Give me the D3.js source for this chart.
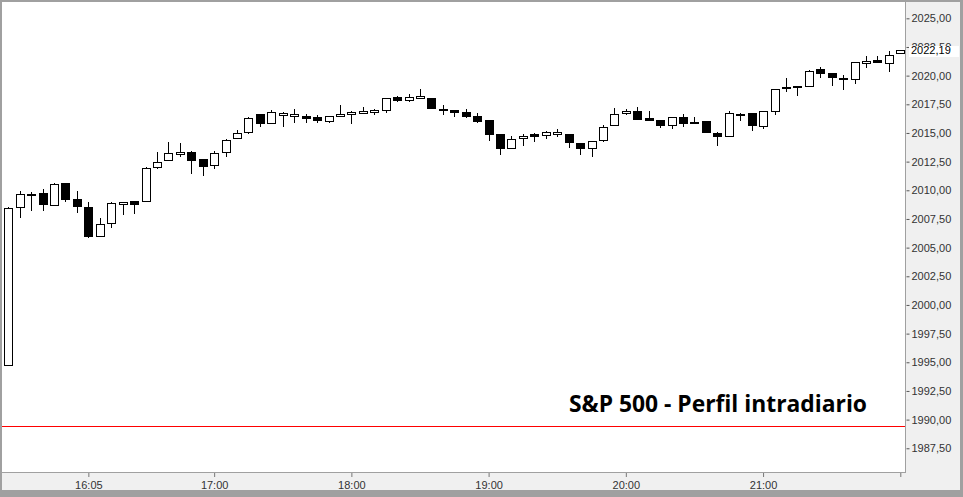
<!DOCTYPE html>
<html>
<head>
<meta charset="utf-8">
<script src="https://cdn.jsdelivr.net/npm/d3@7"></script>
<style>
  body { margin: 0; background: #fff; }
  svg { display: block; }
  .ax text { font-family: "Liberation Sans", Arial, sans-serif; font-size: 11px; fill: #333; }
</style>
</head>
<body>
<div id="chart"></div>
<script>
var w = 963,
  h = 497;

// 5 minute candles, S&P 500
var times = ["15:30","15:35","15:40","15:45","15:50","15:55","16:00","16:05","16:10","16:15","16:20","16:25",
  "16:30","16:35","16:40","16:45","16:50","16:55","17:00","17:05","17:10","17:15","17:20","17:25",
  "17:30","17:35","17:40","17:45","17:50","17:55","18:00","18:05","18:10","18:15","18:20","18:25",
  "18:30","18:35","18:40","18:45","18:50","18:55","19:00","19:05","19:10","19:15","19:20","19:25",
  "19:30","19:35","19:40","19:45","19:50","19:55","20:00","20:05","20:10","20:15","20:20","20:25",
  "20:30","20:35","20:40","20:45","20:50","20:55","21:00","21:05","21:10","21:15","21:20","21:25",
  "21:30","21:35","21:40","21:45","21:50","21:55","22:00"];

var open = [1994.71,2008.52,2009.55,2009.68,2008.70,2010.55,2009.16,2008.46,2005.99,2007.13,2008.75,2008.98,
  2009.05,2012.01,2012.62,2013.11,2013.26,2012.65,2012.12,2013.32,2014.52,2015.03,2016.57,2015.85,
  2016.54,2016.46,2016.40,2016.31,2015.99,2016.42,2016.60,2016.68,2016.77,2016.95,2018.05,2017.85,
  2017.97,2017.97,2017.09,2016.95,2016.82,2016.40,2016.05,2014.83,2013.63,2014.50,2014.85,2014.80,
  2014.85,2014.83,2014.04,2013.63,2014.33,2015.67,2016.68,2016.89,2016.22,2016.11,2015.67,2016.37,
  2015.95,2015.96,2014.98,2014.68,2016.48,2016.66,2015.55,2016.89,2018.84,2018.93,2019.07,2020.50,
  2020.15,2019.62,2019.68,2021.04,2021.34,2021.08,2021.90];

var high = [2008.52,2009.92,2009.83,2010.12,2010.61,2010.60,2009.94,2008.96,2007.59,2008.96,2008.96,2009.05,
  2012.01,2013.32,2014.22,2014.10,2013.41,2012.73,2013.43,2014.48,2015.26,2016.37,2016.66,2016.98,
  2016.86,2017.09,2016.68,2016.57,2016.46,2017.47,2016.89,2017.27,2017.12,2018.03,2018.23,2018.38,
  2018.84,2018.03,2017.44,2017.01,2017.07,2016.72,2016.05,2014.91,2014.74,2014.91,2014.98,2015.20,
  2015.35,2014.83,2014.04,2014.30,2015.70,2017.16,2017.07,2017.24,2016.89,2016.11,2016.37,2016.63,
  2016.37,2015.96,2015.09,2016.92,2016.72,2016.66,2016.92,2018.81,2019.80,2019.07,2020.47,2020.73,
  2020.15,2020.06,2021.17,2021.72,2021.72,2022.18,2022.19];

var low = [1994.71,2007.61,2008.23,2008.23,2008.70,2009.01,2008.05,2005.87,2005.99,2006.74,2007.88,2007.96,
  2009.05,2011.89,2012.62,2012.93,2011.45,2011.28,2011.84,2012.88,2014.52,2014.94,2015.55,2015.85,
  2015.55,2015.90,2015.90,2015.90,2015.90,2016.37,2015.79,2016.68,2016.54,2016.77,2017.68,2017.68,
  2017.97,2017.12,2016.60,2016.37,2016.34,2015.90,2014.33,2013.11,2013.63,2013.89,2014.24,2014.50,
  2014.68,2013.72,2013.11,2012.93,2014.24,2015.67,2016.60,2016.16,2016.07,2015.46,2015.35,2015.55,
  2015.81,2015.03,2013.89,2014.63,2016.07,2015.20,2015.32,2016.60,2018.60,2018.25,2018.99,2019.82,
  2019.13,2018.75,2019.25,2020.70,2021.13,2020.35,2021.90];

var close = [2008.43,2009.66,2009.65,2008.75,2010.53,2009.18,2008.57,2005.96,2007.04,2008.87,2008.90,2008.78,
  2011.92,2012.45,2013.23,2013.26,2012.62,2012.10,2013.23,2014.36,2014.98,2016.28,2015.81,2016.81,
  2016.68,2016.60,2016.25,2016.07,2016.46,2016.60,2016.75,2016.83,2016.92,2018.03,2017.82,2018.11,
  2018.14,2017.12,2016.95,2016.77,2016.42,2015.99,2014.85,2013.63,2014.45,2014.71,2014.68,2015.00,
  2015.03,2014.16,2013.63,2014.22,2015.50,2016.63,2016.89,2016.16,2016.07,2015.64,2016.37,2015.81,
  2015.82,2015.03,2014.68,2016.72,2016.63,2015.64,2016.83,2018.81,2018.99,2019.07,2020.38,2020.17,
  2019.86,2019.77,2021.17,2021.19,2021.13,2021.78,2022.19];

var priceTicks = [1987.5,1990,1992.5,1995,1997.5,2000,2002.5,2005,2007.5,2010,2012.5,2015,2017.5,2020,2022.5,2025];
var timeTicks = ["16:05","17:00","18:00","19:00","20:00","21:00","22:00"];
var timeLabels = ["16:05","17:00","18:00","19:00","20:00","21:00",""];
var prevClose = 1989.45;
var lastPrice = 2022.19;
var title = "S&P 500 - Perfil intradiario";

function toMin(t) {
  var p = t.split(":");
  return +p[0] * 60 + +p[1];
}
function fmt(v) {
  return d3.format(".2f")(v).replace(".", ",");
}

var plot = {left: 2, top: 2, right: 905, bottom: 472};

var x = d3.scaleLinear().domain([toMin("15:30"), toMin("22:00")]).range([8.3, 900.3]);
var y = d3.scaleLinear().domain([1985.43, 2026.51]).range([472, 1]);

var svg = d3.select("#chart").append("svg").attr("width", w).attr("height", h);

// frame and panels
svg.append("rect").attr("width", w).attr("height", h).attr("fill", "#a0a0a0");
svg.append("rect").attr("x", 2).attr("y", 2).attr("width", 958).attr("height", 488).attr("fill", "#f0f0f0");
svg.append("rect").attr("x", plot.left).attr("y", plot.top)
  .attr("width", plot.right - plot.left).attr("height", plot.bottom - plot.top).attr("fill", "#fff");
svg.append("line").attr("x1", plot.right + 0.5).attr("x2", plot.right + 0.5).attr("y1", 2).attr("y2", plot.bottom + 1)
  .attr("stroke", "#a0a0a0");
svg.append("line").attr("x1", 2).attr("x2", plot.right + 1).attr("y1", plot.bottom + 0.5).attr("y2", plot.bottom + 0.5)
  .attr("stroke", "#a0a0a0");

// red reference line (previous close)
svg.append("line").attr("x1", plot.left).attr("x2", plot.right)
  .attr("y1", Math.round(y(prevClose)) + 0.5).attr("y2", Math.round(y(prevClose)) + 0.5)
  .attr("stroke", "#ff0000");

// right price axis
var yAxis = d3.axisRight(y).tickValues(priceTicks).tickSize(3).tickPadding(2).tickFormat(fmt);
var gy = svg.append("g").attr("class", "ax").attr("transform", "translate(" + (plot.right + 1.5) + ",0)").call(yAxis);
gy.select(".domain").remove();
gy.selectAll(".tick line").attr("stroke", "#555");

// bottom time axis
var xAxis = d3.axisBottom(x).tickValues(timeTicks.map(toMin)).tickSize(4).tickPadding(4)
  .tickFormat(function(d, i) { return timeLabels[i]; });
var gx = svg.append("g").attr("class", "ax").attr("transform", "translate(0," + (plot.bottom + 1) + ")").call(xAxis);
gx.select(".domain").remove();
gx.selectAll(".tick line").attr("stroke", "#777");

// candles
var candles = times.map(function(t, i) {
  return {t: toMin(t), o: open[i], h: high[i], l: low[i], c: close[i]};
});

var cg = svg.append("g").attr("shape-rendering", "crispEdges");
cg.selectAll(".wick").data(candles).enter().append("line")
  .attr("class", "wick")
  .attr("x1", function(d) { return Math.round(x(d.t)) + 0.5; })
  .attr("x2", function(d) { return Math.round(x(d.t)) + 0.5; })
  .attr("y1", function(d) { return y(d.h); })
  .attr("y2", function(d) { return y(d.l); })
  .attr("stroke", "#000");

cg.selectAll(".body").data(candles).enter().append("rect")
  .attr("class", "body")
  .attr("x", function(d) { return Math.round(x(d.t)) - 3.5; })
  .attr("width", 8)
  .attr("y", function(d) { return y(Math.max(d.o, d.c)); })
  .attr("height", function(d) { return Math.max(1, Math.abs(y(d.o) - y(d.c))); })
  .attr("fill", function(d) { return d.c >= d.o ? "#fff" : "#000"; })
  .attr("stroke", "#000");

// last price marker
var ly = y(lastPrice);
svg.append("rect").attr("x", 909).attr("y", Math.round(ly) - 5).attr("width", 50).attr("height", 11).attr("fill", "#fff");
svg.append("text").attr("x", 911).attr("y", ly).attr("dy", "0.35em")
  .style("font-family", "Liberation Sans, Arial, sans-serif").style("font-size", "11px").attr("fill", "#000")
  .text(fmt(lastPrice));

// title
svg.append("text").attr("x", 569).attr("y", 412)
  .style("font-family", "Open Sans, sans-serif").style("font-weight", "bold").style("font-size", "23px")
  .attr("fill", "#000")
  .attr("textLength", 298).attr("lengthAdjust", "spacingAndGlyphs")
  .text(title);
</script>
</body>
</html>
